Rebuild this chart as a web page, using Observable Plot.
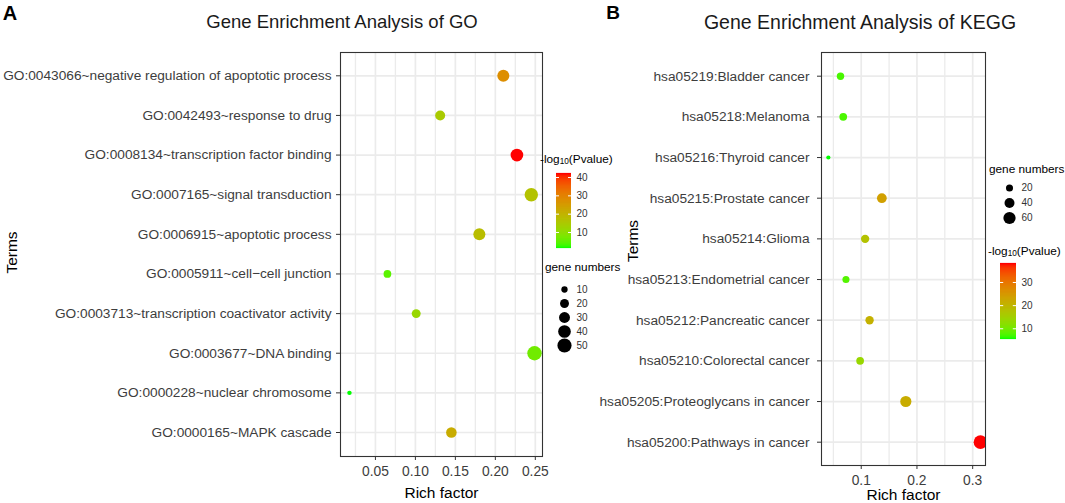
<!DOCTYPE html>
<html><head><meta charset="utf-8">
<script src="https://cdn.jsdelivr.net/npm/d3@7"></script>
<script src="https://cdn.jsdelivr.net/npm/@observablehq/plot@0.6"></script>
<style>
body{margin:0;background:#fff;font-family:"Liberation Sans",Arial,sans-serif;}
#root{position:relative;width:1065px;height:503px;overflow:hidden;background:#fff;}
.abs{position:absolute;white-space:nowrap;line-height:1;}
.c{transform:translate(-50%,-50%);}
.lt{transform:translate(0,-50%);}
sub{font-size:0.7em;vertical-align:-0.15em;line-height:0;}
</style></head><body><div id="root"></div>
<script>
// ---------- GO data ----------
const goTerms = [
  "GO:0043066~negative regulation of apoptotic process",
  "GO:0042493~response to drug",
  "GO:0008134~transcription factor binding",
  "GO:0007165~signal transduction",
  "GO:0006915~apoptotic process",
  "GO:0005911~cell\u2212cell junction",
  "GO:0003713~transcription coactivator activity",
  "GO:0003677~DNA binding",
  "GO:0000228~nuclear chromosome",
  "GO:0000165~MAPK cascade"
];
const goRich  = [0.210, 0.131, 0.227, 0.245, 0.180, 0.065, 0.101, 0.249, 0.0175, 0.145];
const goLogP  = [28, 15, 42.2, 17, 18, 5, 12, 7, 1.8, 22];
const goCount = [36, 25, 40, 45, 36, 15, 20, 52, 5, 28];
const goTicks = [0.05, 0.10, 0.15, 0.20, 0.25];
const goMinor = [0.025, 0.075, 0.125, 0.175, 0.225];
const goColorTicks = [10, 20, 30, 40];
const goSizeBreaks = [10, 20, 30, 40, 50];

// ---------- KEGG data ----------
const keggTerms = [
  "hsa05219:Bladder cancer",
  "hsa05218:Melanoma",
  "hsa05216:Thyroid cancer",
  "hsa05215:Prostate cancer",
  "hsa05214:Glioma",
  "hsa05213:Endometrial cancer",
  "hsa05212:Pancreatic cancer",
  "hsa05210:Colorectal cancer",
  "hsa05205:Proteoglycans in cancer",
  "hsa05200:Pathways in cancer"
];
const keggRich  = [0.0628, 0.0677, 0.041, 0.137, 0.107, 0.0726, 0.115, 0.098, 0.180, 0.314];
const keggLogP  = [7.4, 7.5, 5.8, 24, 18, 8, 21, 14, 22, 38.2];
const keggCount = [22, 24, 7, 38, 28, 20, 28, 24, 50, 75];
const keggTicks = [0.1, 0.2, 0.3];
const keggMinor = [0.05, 0.15, 0.25];
const keggColorTicks = [10, 20, 30];
const keggSizeBreaks = [20, 40, 60];

const FONT = "'Liberation Sans', Arial, sans-serif";
const GRID = "#ebebeb";
const TXT = "#3d3d3d";
const root = document.getElementById("root");

function place(el, left, top) {
  el.style.position = "absolute";
  el.style.left = left + "px";
  el.style.top = top + "px";
  root.appendChild(el);
}
function label(html, x, y, cls, css) {
  const d = document.createElement("div");
  d.className = "abs " + cls;
  d.innerHTML = html;
  d.style.left = x + "px";
  d.style.top = y + "px";
  Object.assign(d.style, css || {});
  root.appendChild(d);
}
const baseStyle = {fontFamily: FONT, background: "transparent", overflow: "visible", color: "#333"};

function mainPlot(cfg) {
  const data = cfg.terms.map((t, i) => ({term: t, rich: cfg.rich[i], p: cfg.logp[i], n: cfg.count[i]}));
  return Plot.plot({
    width: cfg.width, height: 503,
    marginLeft: cfg.ml, marginRight: cfg.mr, marginTop: 52, marginBottom: cfg.mb,
    style: baseStyle,
    x: {domain: cfg.xdomain},
    y: {type: "point", domain: cfg.terms, padding: 0, range: cfg.yrange, round: false},
    r: cfg.r, color: cfg.color,
    marks: [
      Plot.gridX(cfg.minor, {stroke: GRID, strokeOpacity: 1, strokeWidth: 1.3}),
      Plot.gridX(cfg.ticks, {stroke: GRID, strokeOpacity: 1, strokeWidth: 1.7}),
      Plot.gridY(cfg.terms, {stroke: GRID, strokeOpacity: 1, strokeWidth: 1.7}),
      Plot.dot(data, {x: "rich", y: "term", r: "n", fill: "p", clip: true}),
      Plot.frame({stroke: "#333", strokeWidth: 1.1}),
      Plot.axisX(cfg.ticks, {tickFormat: d3.format(cfg.fmt), tickSize: 4, tickPadding: 6, fontSize: 13.8,
        stroke: "#333", fill: TXT, label: null}),
      Plot.axisY(cfg.terms, {tickSize: 4, tickPadding: cfg.ypad, fontSize: 13.7,
        stroke: "#333", fill: TXT, label: null}),
      Plot.text(["Rich factor"], {text: d => d, frameAnchor: "bottom", lineAnchor: "middle", textAnchor: "middle",
        dy: cfg.xtitleDy, fontSize: 15.5, fill: "black"}),
      Plot.text(["Terms"], {text: d => d, frameAnchor: "left", lineAnchor: "middle", textAnchor: "middle",
        dx: cfg.ytitleDx, dy: cfg.ytitleDy, rotate: -90, fontSize: 15.5, fill: "black"})
    ]
  });
}

function colorbar(colorCfg, ticks, left, top, barW, barH) {
  const [lo, hi] = colorCfg.domain;
  const stops = d3.range(0, 151).map(i => lo + (hi - lo) * i / 150);
  const svg = Plot.plot({
    width: barW + 34, height: barH,
    marginLeft: 0, marginRight: 34, marginTop: 0, marginBottom: 0,
    style: baseStyle,
    x: {domain: [0, 1], axis: null},
    y: {domain: [lo, hi]},
    color: colorCfg,
    marks: [
      Plot.ruleY(stops, {y: d => d, stroke: d => d, strokeWidth: 1.2}),
      Plot.ruleY(ticks, {y: d => d, x1: 0, x2: 0.2, stroke: "white", strokeWidth: 1}),
      Plot.ruleY(ticks, {y: d => d, x1: 0.8, x2: 1, stroke: "white", strokeWidth: 1}),
      Plot.axisY(ticks, {anchor: "right", tickSize: 0, tickPadding: 5, fontSize: 10, fill: "#333", label: null})
    ]
  });
  place(svg, left, top);
}

function sizeLegend(rCfg, sizes, dotX, top, step) {
  const svg = Plot.plot({
    width: 60, height: sizes.length * step,
    marginLeft: 10, marginRight: 10, marginTop: 0, marginBottom: 0,
    style: baseStyle,
    x: {domain: [0, 1], axis: null},
    y: {type: "band", domain: sizes, padding: 0, axis: null},
    r: rCfg,
    marks: [
      Plot.dot(sizes, {x: () => 0, y: d => d, r: d => d, fill: "black"}),
      Plot.text(sizes, {x: () => 0, y: d => d, text: d => String(d), dx: 12, textAnchor: "start",
        fontSize: 10, fill: "#333"})
    ]
  });
  place(svg, dotX - 10, top);
}

// ---------- scales ----------
const colorGO = {type: "linear", domain: [d3.min(goLogP), d3.max(goLogP)], range: ["#00ff00", "#ff0000"], interpolate: "lab"};
const colorKEGG = {type: "linear", domain: [d3.min(keggLogP), d3.max(keggLogP)], range: ["#00ff00", "#ff0000"], interpolate: "lab"};
const rGO = {type: "sqrt", domain: [0, 100], range: [0, 10]};
const rKEGG = {type: "sqrt", domain: [0, 100], range: [0, 7.9]};

// ---------- Panel A ----------
place(mainPlot({
  width: 560, ml: 340, mr: 18, mb: 47, ypad: 5, yrange: [75.3, 432],
  terms: goTerms, rich: goRich, logp: goLogP, count: goCount,
  xdomain: [0.0063, 0.259], ticks: goTicks, minor: goMinor, fmt: ".2f",
  r: rGO, color: colorGO, xtitleDy: 37, ytitleDx: -328, ytitleDy: -2
}), 0, 0);

// ---------- Panel B ----------
place(mainPlot({
  width: 505, ml: 261, mr: 80, mb: 38, ypad: 8, yrange: [75.7, 441.7],
  terms: keggTerms, rich: keggRich, logp: keggLogP, count: keggCount,
  xdomain: [0.0287, 0.323], ticks: keggTicks, minor: keggMinor, fmt: ".1f",
  r: rKEGG, color: colorKEGG, xtitleDy: 30, ytitleDx: -188, ytitleDy: -18
}), 560, 0);

// ---------- legends ----------
colorbar(colorGO, goColorTicks, 556, 173, 15, 74);
sizeLegend(rGO, goSizeBreaks, 564, 279.6, 14.75);
colorbar(colorKEGG, keggColorTicks, 1000, 263, 16, 75);
sizeLegend(rKEGG, keggSizeBreaks, 1009, 179.5, 15);

// ---------- texts ----------
label("A", 10, 12.5, "c", {fontWeight: "bold", fontSize: "20px", color: "#000"});
label("B", 613, 11.7, "c", {fontWeight: "bold", fontSize: "19px", color: "#000"});
label("Gene Enrichment Analysis of GO", 342, 22, "c", {fontSize: "18.5px", color: "#1a1a1a"});
label("Gene Enrichment Analysis of KEGG", 860, 23, "c", {fontSize: "19.5px", color: "#1a1a1a"});
label("-log<sub>10</sub>(Pvalue)", 540, 160, "lt", {fontSize: "11.8px", color: "#000"});
label("gene numbers", 545, 268, "lt", {fontSize: "11.8px", color: "#000"});
label("gene numbers", 989, 170, "lt", {fontSize: "11.8px", color: "#000"});
label("-log<sub>10</sub>(Pvalue)", 988, 252, "lt", {fontSize: "11.8px", color: "#000"});
</script></body></html>
